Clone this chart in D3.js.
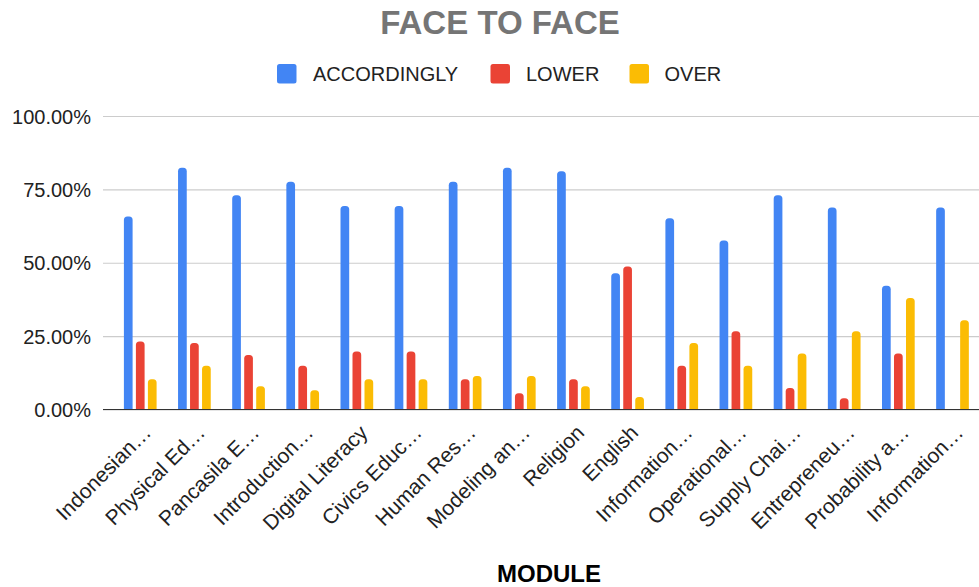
<!DOCTYPE html>
<html>
<head>
<meta charset="utf-8">
<script src="https://cdn.jsdelivr.net/npm/d3@7"></script>
<style>
  html, body { margin: 0; padding: 0; background: #fff; }
  svg { display: block; font-family: Arial, "Liberation Sans", sans-serif; }
</style>
</head>
<body>
<svg id="chart" width="979" height="587"></svg>
<script>
// Modules (labels as shown on the axis, truncated)
const modules = [
  "Indonesian…", "Physical Ed…", "Pancasila E…", "Introduction…",
  "Digital Literacy", "Civics Educ…", "Human Res…", "Modeling an…",
  "Religion", "English", "Information…", "Operational…",
  "Supply Chai…", "Entrepreneu…", "Probability a…", "Information…"
];
const seriesNames = ["ACCORDINGLY", "LOWER", "OVER"];
const seriesColors = ["#4285F4", "#EA4335", "#FBBC04"];

// Share of students per module (fractions)
const accordingly = [0.658, 0.824, 0.730, 0.776, 0.693, 0.693, 0.776, 0.824,
                     0.812, 0.464, 0.652, 0.576, 0.730, 0.688, 0.422, 0.688];
const lower       = [0.232, 0.227, 0.186, 0.149, 0.198, 0.198, 0.103, 0.055,
                     0.103, 0.487, 0.149, 0.267, 0.073, 0.038, 0.191, 0.000];
const over        = [0.103, 0.149, 0.079, 0.066, 0.103, 0.103, 0.114, 0.114,
                     0.079, 0.043, 0.227, 0.149, 0.191, 0.267, 0.380, 0.304];

const yTicks = [0, 0.25, 0.5, 0.75, 1];

const seriesValues = [accordingly, lower, over];

const svg = d3.select("#chart");

const plotLeft = 103, plotRight = 979;
const y = d3.scaleLinear().domain([0, 1]).range([409.5, 116]);
const x0 = d3.scaleBand().domain(d3.range(modules.length)).range([113.2, 979.6]).padding(0);
const x1 = d3.scaleBand().domain(d3.range(seriesNames.length))
  .range([10.7, x0.bandwidth() - 10.75]).paddingInner(0.275).paddingOuter(0);

// Title
svg.append("text")
  .attr("x", 500).attr("y", 34)
  .attr("text-anchor", "middle")
  .attr("font-size", 33).attr("font-weight", "bold")
  .attr("fill", "#757575")
  .text("FACE TO FACE");

// Legend
const legendItems = [
  { sq: 277, tx: 313 },
  { sq: 490.5, tx: 526 },
  { sq: 629.5, tx: 664.5 }
];
seriesNames.forEach((name, i) => {
  svg.append("rect")
    .attr("x", legendItems[i].sq).attr("y", 64)
    .attr("width", 19.5).attr("height", 19.5)
    .attr("rx", 2.5)
    .attr("fill", seriesColors[i]);
  svg.append("text")
    .attr("x", legendItems[i].tx).attr("y", 81)
    .attr("font-size", 20).attr("fill", "#222")
    .text(name);
});

// Gridlines and y-axis labels
const yAxis = d3.axisLeft(y).tickValues(yTicks)
  .tickFormat(d => (d * 100).toFixed(2) + "%")
  .tickSize(-(plotRight - plotLeft)).tickPadding(12);
const gy = svg.append("g").attr("transform", `translate(${plotLeft},0)`).call(yAxis);
gy.select(".domain").remove();
gy.selectAll(".tick line").attr("stroke", "#cccccc").attr("stroke-width", 1.2);
gy.selectAll(".tick text")
  .attr("font-size", 20).attr("fill", "#222")
  .attr("font-family", "Arial, 'Liberation Sans', sans-serif")
  .attr("dy", "0.35em");

// Bars with rounded tops
function barPath(xl, w, yTop, yBase, r) {
  const h = yBase - yTop;
  if (h <= 0) return "";
  r = Math.min(r, w / 2, h);
  return `M${xl},${yBase}V${yTop + r}Q${xl},${yTop} ${xl + r},${yTop}` +
         `H${xl + w - r}Q${xl + w},${yTop} ${xl + w},${yTop + r}V${yBase}Z`;
}

const groups = svg.append("g").selectAll("g")
  .data(modules.map((m, i) => i))
  .join("g")
  .attr("transform", i => `translate(${x0(i)},0)`);

groups.selectAll("path")
  .data(i => seriesValues.map((vals, s) => ({ s, v: vals[i] })))
  .join("path")
  .attr("fill", d => seriesColors[d.s])
  .attr("d", d => barPath(x1(d.s), x1.bandwidth(), y(d.v), y(0), 3.5));

// Baseline
svg.append("line")
  .attr("x1", plotLeft).attr("x2", plotRight)
  .attr("y1", y(0)).attr("y2", y(0))
  .attr("stroke", "#333").attr("stroke-width", 1.2);

// X-axis labels (rotated)
svg.append("g").selectAll("text")
  .data(modules)
  .join("text")
  .attr("transform", (d, i) => `translate(${x0(i) + x0.bandwidth() / 2 + 12},434) rotate(-45)`)
  .attr("text-anchor", "end")
  .attr("font-size", 21).attr("fill", "#222")
  .text(d => d);

// X-axis title
svg.append("text")
  .attr("x", 549).attr("y", 581.5)
  .attr("text-anchor", "middle")
  .attr("font-size", 24).attr("font-weight", "bold")
  .attr("fill", "#000")
  .text("MODULE");
</script>
</body>
</html>
